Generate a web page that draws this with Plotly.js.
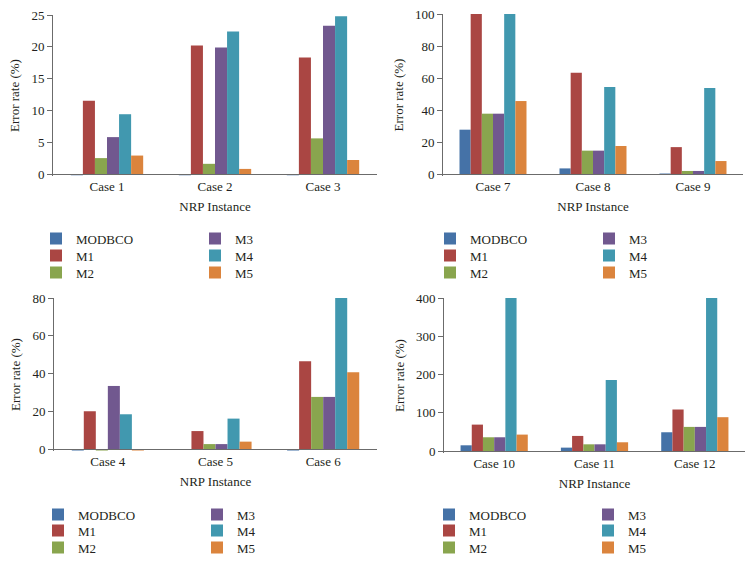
<!DOCTYPE html>
<html>
<head>
<meta charset="utf-8">
<script src="https://cdn.plot.ly/plotly-3.0.1.min.js"></script>
<style>html,body{margin:0;padding:0;background:#fff;overflow:hidden;}#chart{width:754px;height:563px;}</style>
</head>
<body>
<div id="chart"></div>
<script>
// ---- data ----
const seriesNames = ['MODBCO', 'M1', 'M2', 'M3', 'M4', 'M5'];
const seriesColors = ['#4572A7', '#AA4643', '#89A54E', '#71588F', '#4198AF', '#DB843D'];

const casesA = ['Case 1', 'Case 2', 'Case 3'];
const modbcoA = [-0.2, -0.2, -0.2];
const m1A = [11.5, 20.2, 18.3];
const m2A = [2.5, 1.6, 5.6];
const m3A = [5.8, 19.9, 23.3];
const m4A = [9.4, 22.4, 24.8];
const m5A = [2.9, 0.8, 2.2];

const casesB = ['Case 7', 'Case 8', 'Case 9'];
const modbcoB = [27.7, 3.5, 0.3];
const m1B = [100, 63.3, 16.8];
const m2B = [37.7, 14.6, 1.9];
const m3B = [37.7, 14.6, 1.9];
const m4B = [100, 54.4, 53.8];
const m5B = [45.6, 17.5, 8.1];

const casesC = ['Case 4', 'Case 5', 'Case 6'];
const modbcoC = [-0.8, 0, -0.8];
const m1C = [20, 9.5, 46.5];
const m2C = [-0.8, 2.6, 27.6];
const m3C = [33.4, 2.6, 27.6];
const m4C = [18.4, 16.1, 80];
const m5C = [-0.8, 3.9, 40.6];

const casesD = ['Case 10', 'Case 11', 'Case 12'];
const modbcoD = [14.9, 8.8, 49];
const m1D = [69, 39.4, 108.5];
const m2D = [35.9, 17.5, 63];
const m3D = [35.9, 17.5, 63];
const m4D = [400, 185.6, 400];
const m5D = [42.9, 22.8, 88.4];

const yTicksA = [0, 5, 10, 15, 20, 25];
const yTicksB = [0, 20, 40, 60, 80, 100];
const yTicksC = [0, 20, 40, 60, 80];
const yTicksD = [0, 100, 200, 300, 400];

const xTitle = 'NRP Instance';
const yTitle = 'Error rate (%)';

// ---- build ----
const W = 754, H = 563;
const FONT = 'Liberation Serif, Times New Roman, serif';
const TXT = '#231f20';
const AX = '#6b6b6b';
const BELOW = 2; // px of plot area under the zero line

// legend row of each series (0..2)
const legRow = [0, 1, 2, 0, 1, 2];

const panels = [
  {cats: casesA, vals: [modbcoA, m1A, m2A, m3A, m4A, m5A], ticks: yTicksA, xa: 'x', ya: 'y',
   px: [53, 377], py: [15, 174], legX: 36, rows: [239, 256, 273]},
  {cats: casesB, vals: [modbcoB, m1B, m2B, m3B, m4B, m5B], ticks: yTicksB, xa: 'x2', ya: 'y2',
   px: [443, 743], py: [14, 174], legX: 430, rows: [239, 256, 273]},
  {cats: casesC, vals: [modbcoC, m1C, m2C, m3C, m4C, m5C], ticks: yTicksC, xa: 'x3', ya: 'y3',
   px: [54, 377], py: [298, 449], legX: 38, rows: [515, 531, 548]},
  {cats: casesD, vals: [modbcoD, m1D, m2D, m3D, m4D, m5D], ticks: yTicksD, xa: 'x4', ya: 'y4',
   px: [444, 745], py: [298, 451], legX: 429, rows: [515, 531, 548]}
];

const traces = [];
const layout = {
  width: W, height: H,
  margin: {l: 0, r: 0, t: 0, b: 0, pad: 0, autoexpand: false},
  paper_bgcolor: '#ffffff', plot_bgcolor: '#ffffff',
  font: {family: FONT, size: 13, color: TXT},
  barmode: 'group', bargap: 0.33, bargroupgap: 0,
  showlegend: true
};

let legCount = 0;
panels.forEach((p, pi) => {
  const sfx = pi === 0 ? '' : String(pi + 1);
  const legNames = [];
  for (let r = 0; r < 3; r++) {
    legCount++;
    const ln = legCount === 1 ? 'legend' : 'legend' + legCount;
    legNames.push(ln);
    layout[ln] = {
      orientation: 'h', x: p.legX / W, y: 1 - (p.rows[r] - 15.5) / H, xanchor: 'left', yanchor: 'top',
      xref: 'paper', yref: 'paper', entrywidth: 114, entrywidthmode: 'pixels',
      font: {family: FONT, size: 13, color: TXT}, bgcolor: 'rgba(0,0,0,0)', borderwidth: 0
    };
  }
  p.vals.forEach((v, si) => {
    traces.push({
      type: 'bar', name: seriesNames[si], x: p.cats, y: v,
      xaxis: p.xa, yaxis: p.ya, legend: legNames[legRow[si]],
      legendrank: si < 3 ? 1 : 2,
      marker: {color: seriesColors[si], line: {width: 0}},
      hoverinfo: 'skip'
    });
  });
  const ymax = p.ticks[p.ticks.length - 1];
  const hpx = p.py[1] - p.py[0];
  layout['xaxis' + sfx] = {
    domain: [p.px[0] / W, p.px[1] / W], anchor: 'free', position: 1 - p.py[1] / H,
    type: 'category', showline: true, linecolor: AX, linewidth: 1, layer: 'above traces',
    ticks: '', showgrid: false, zeroline: false, fixedrange: true,
    tickfont: {family: FONT, size: 13, color: TXT},
    title: {text: xTitle, font: {family: FONT, size: 13, color: TXT}, standoff: 9}
  };
  layout['yaxis' + sfx] = {
    domain: [1 - (p.py[1] + BELOW) / H, 1 - p.py[0] / H], anchor: p.xa,
    range: [-ymax * BELOW / hpx, ymax], tickvals: p.ticks, showline: true, linecolor: AX, linewidth: 1,
    ticks: 'outside', ticklen: 5, tickcolor: AX, tickwidth: 1,
    showgrid: false, zeroline: false, fixedrange: true,
    tickfont: {family: FONT, size: 13, color: TXT},
    title: {text: yTitle, font: {family: FONT, size: 13, color: TXT}, standoff: 8}
  };
});

Plotly.newPlot('chart', traces, layout, {displayModeBar: false, staticPlot: true});
</script>
</body>
</html>
